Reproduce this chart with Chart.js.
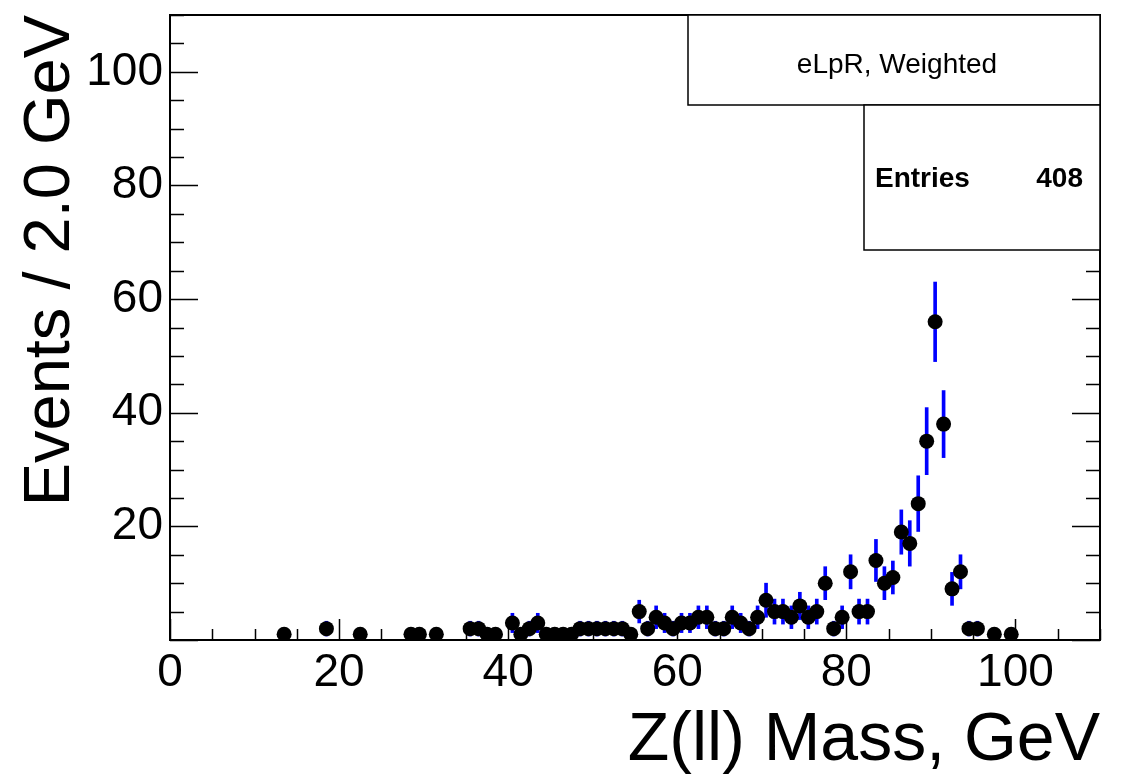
<!DOCTYPE html>
<html><head><meta charset="utf-8">
<script src="https://cdn.jsdelivr.net/npm/chart.js@4/dist/chart.umd.min.js"></script>
<style>html,body{margin:0;padding:0;background:#fff;}</style>
</head><body>
<canvas id="c" width="1130" height="778"></canvas>
<script>
// ---- data ----
const massCenters = [13.5, 18.5, 22.5, 28.5, 29.5, 31.5, 35.5, 36.5, 37.5, 38.5,
  40.5, 41.5, 42.5, 43.5, 44.5, 45.5, 46.5, 47.5, 48.5, 49.5,
  50.5, 51.5, 52.5, 53.5, 54.5, 55.5, 56.5, 57.5, 58.5, 59.5,
  60.5, 61.5, 62.5, 63.5, 64.5, 65.5, 66.5, 67.5, 68.5, 69.5,
  70.5, 71.5, 72.5, 73.5, 74.5, 75.5, 76.5, 77.5, 78.5, 79.5,
  80.5, 81.5, 82.5, 83.5, 84.5, 85.5, 86.5, 87.5, 88.5, 89.5,
  90.5, 91.5, 92.5, 93.5, 94.5, 95.5, 97.5, 99.5];
const eventCounts = [1, 2, 1, 1, 1, 1, 2, 2, 1, 1,
  3, 1, 2, 3, 1, 1, 1, 1, 2, 2,
  2, 2, 2, 2, 1, 5, 2, 4, 3, 2,
  3, 3, 4, 4, 2, 2, 4, 3, 2, 4,
  7, 5, 5, 4, 6, 4, 5, 10, 2, 4,
  12, 5, 5, 14, 10, 11, 19, 17, 24, 35,
  56, 38, 9, 12, 2, 2, 1, 1];
const countErrors = [1.0, 1.3, 1.0, 1.0, 1.0, 1.0, 1.3, 1.3, 1.0, 1.0,
  1.7, 1.0, 1.3, 1.7, 1.0, 1.0, 1.0, 1.0, 1.3, 1.3,
  1.3, 1.3, 1.3, 1.3, 1.0, 2.0, 1.3, 2.0, 1.7, 1.3,
  1.7, 1.7, 2.0, 2.0, 1.3, 1.3, 2.0, 1.7, 1.3, 2.0,
  3.0, 2.2, 2.2, 2.0, 2.4, 2.0, 2.2, 2.9, 1.3, 2.0,
  3.0, 2.2, 2.2, 3.7, 2.9, 2.9, 3.9, 4.0, 4.9, 5.9,
  7.0, 5.9, 2.9, 3.0, 1.3, 1.3, 1.0, 1.0];
const xTickValues = [0, 20, 40, 60, 80, 100];
const yTickValues = [20, 40, 60, 80, 100];
const xAxisTitle = 'Z(ll) Mass, GeV';
const yAxisTitle = 'Events / 2.0 GeV';
const statTitle = 'eLpR, Weighted';
const statLabel = 'Entries';
const statValue = '408';

const FONT = "'Liberation Sans', Arial, Helvetica, sans-serif";

const rootFrame = {
  id: 'rootFrame',
  afterDatasetsDraw(chart) {
    const ctx = chart.ctx, a = chart.chartArea;
    const xs = chart.scales.x, ys = chart.scales.y;
    ctx.save();
    ctx.strokeStyle = '#000';
    ctx.lineWidth = 2;
    ctx.strokeRect(a.left, a.top, a.right - a.left, a.bottom - a.top);
    ctx.lineWidth = 1.5;
    ctx.beginPath();
    for (let v = xs.min; v <= xs.max + 1e-9; v += 5) {
      const p = Math.round(xs.getPixelForValue(v)) + 0.5;
      const len = (v % 20 === 0) ? 21 : 11;
      ctx.moveTo(p, a.bottom); ctx.lineTo(p, a.bottom - len);
    }
    for (let v = ys.min; v <= ys.max + 1e-9; v += 5) {
      const p = Math.round(ys.getPixelForValue(v)) + 0.5;
      const len = (v % 20 === 0) ? 28 : 14;
      ctx.moveTo(a.left, p); ctx.lineTo(a.left + len, p);
      ctx.moveTo(a.right, p); ctx.lineTo(a.right - len, p);
    }
    ctx.stroke();
    ctx.restore();
  },
  afterDraw(chart) {
    const ctx = chart.ctx, a = chart.chartArea;
    ctx.save();
    ctx.lineWidth = 1.5;
    ctx.strokeStyle = '#000';
    ctx.fillStyle = '#fff';
    // title box
    const b1 = {l: 688, t: a.top, r: a.right, b: 105};
    ctx.fillRect(b1.l, b1.t, b1.r - b1.l, b1.b - b1.t);
    ctx.strokeRect(b1.l, b1.t, b1.r - b1.l, b1.b - b1.t);
    // stats box
    const b2 = {l: 864, t: 105, r: a.right, b: 250};
    ctx.fillStyle = '#fff';
    ctx.fillRect(b2.l, b2.t, b2.r - b2.l, b2.b - b2.t);
    ctx.strokeRect(b2.l, b2.t, b2.r - b2.l, b2.b - b2.t);
    ctx.fillStyle = '#000';
    ctx.textBaseline = 'alphabetic';
    ctx.font = '28px ' + FONT;
    ctx.textAlign = 'center';
    ctx.fillText(statTitle, (b1.l + b1.r) / 2 + 3, 73);
    ctx.font = 'bold 28px ' + FONT;
    ctx.textAlign = 'left';
    ctx.fillText(statLabel, 875, 187);
    ctx.textAlign = 'right';
    ctx.fillText(statValue, 1083, 187);
    ctx.restore();
  }
};

new Chart(document.getElementById('c'), {
  type: 'scatter',
  data: {
    datasets: [
      {
        type: 'scatter',
        data: massCenters.map((m, i) => ({x: m, y: eventCounts[i]})),
        pointRadius: 7.5,
        pointHoverRadius: 7.5,
        pointBackgroundColor: '#000',
        pointBorderWidth: 0,
        order: 0
      },
      {
        type: 'bar',
        data: massCenters.map((m, i) => ({x: m, y: [eventCounts[i] - countErrors[i], eventCounts[i] + countErrors[i]]})),
        backgroundColor: '#0000ff',
        borderWidth: 0,
        barThickness: 3,
        grouped: false,
        order: 1
      }
    ]
  },
  options: {
    responsive: false,
    animation: false,
    devicePixelRatio: 1,
    layout: {padding: {left: 0, top: 15, right: 30, bottom: 0}},
    plugins: {legend: {display: false}, tooltip: {enabled: false}},
    scales: {
      x: {
        type: 'linear', min: 0, max: 110, offset: false,
        afterBuildTicks: s => { s.ticks = xTickValues.map(v => ({value: v})); },
        afterFit: s => { s.height = 138; s.paddingLeft = 0; s.paddingRight = 0; },
        grid: {display: false, drawTicks: false},
        border: {display: false},
        ticks: {color: '#000', font: {family: FONT, size: 46}, padding: 6, autoSkip: false, maxRotation: 0},
        title: {display: true, text: xAxisTitle, align: 'end', color: '#000',
                font: {family: FONT, size: 68, lineHeight: 1}, padding: {top: 0, bottom: 3}}
      },
      y: {
        type: 'linear', min: 0, max: 110,
        afterBuildTicks: s => { s.ticks = yTickValues.map(v => ({value: v})); },
        afterFit: s => { s.width = 170; s.paddingTop = 0; s.paddingBottom = 0; },
        grid: {display: false, drawTicks: false},
        border: {display: false},
        ticks: {color: '#000', font: {family: FONT, size: 46}, padding: 7, autoSkip: false},
        title: {display: true, text: yAxisTitle, align: 'end', color: '#000',
                font: {family: FONT, size: 65, lineHeight: 1}, padding: {top: 19, bottom: 0}}
      }
    }
  },
  plugins: [rootFrame]
});
</script>
</body></html>
